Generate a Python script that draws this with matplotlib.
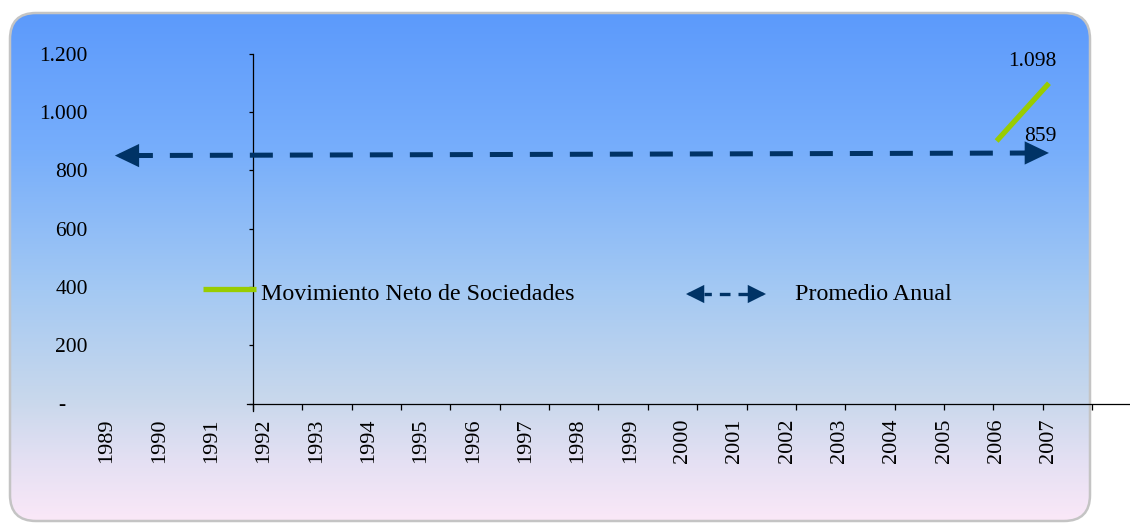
import numpy as np
import matplotlib
matplotlib.use('Agg')
import matplotlib.pyplot as plt
from matplotlib.patches import FancyBboxPatch
from matplotlib.colors import to_rgb
from matplotlib.ticker import FixedLocator

plt.rcParams['font.family'] = ['Liberation Serif', 'DejaVu Serif']

# datos
years = list(range(1989, 2008))
mov_years = [2006, 2007]
mov_values = [900, 1098]
prom_years = [1989.15, 2007]
prom_values = [850, 859]
y_ticks = [0, 200, 400, 600, 800, 1000, 1200]

W, H = 1130, 524
fig = plt.figure(figsize=(W / 100, H / 100), dpi=100)

# fondo redondeado con degradado
bg = fig.add_axes([0, 0, 1, 1])
bg.set_xlim(0, W)
bg.set_ylim(H, 0)
bg.axis('off')
stops_y = [13, 150, 290, 400, 460, 521]
stops_c = ['#5c9afc', '#77aefb', '#a4c9f3', '#c9d8ec', '#e4e0f3', '#fbe8f8']
rows = np.arange(H)
rgb = np.array([to_rgb(c) for c in stops_c])
grad = np.stack([np.interp(rows, stops_y, rgb[:, i]) for i in range(3)], axis=1)
img = np.repeat(grad[:, None, :], 2, axis=1)
box = FancyBboxPatch((10, 13), 1080, 508, boxstyle='round,pad=0,rounding_size=26',
                     facecolor='none', edgecolor='#c4c4c4', linewidth=1.8, zorder=3)
bg.add_patch(box)
im = bg.imshow(img, extent=(0, W, H, 0), aspect='auto', zorder=1)
im.set_clip_path(box)

# ejes principales (posiciones en pixeles)
px_left, px_right = 40, 1130
px_y0, px_y1200 = 403.5, 53.5
px_1989, px_per_year = 107, 52.33

def px2yr(p):
    return 1989 + (p - px_1989) / px_per_year

ax = fig.add_axes([px_left / W, (H - px_y0) / H, (px_right - px_left) / W, (px_y0 - px_y1200) / H])
ax.patch.set_alpha(0)
ax.set_xlim(px2yr(px_left), px2yr(px_right))
ax.set_ylim(0, 1200)
for s in ['top', 'right']:
    ax.spines[s].set_visible(False)
ax.spines['left'].set_position(('data', px2yr(253)))
ax.spines['left'].set_bounds(-25, 1200)
ax.spines['bottom'].set_bounds(px2yr(247), px2yr(px_right))
for s in ['left', 'bottom']:
    ax.spines[s].set_linewidth(0.9)

ax.set_yticks(y_ticks)
ax.set_yticklabels(['-    ' if v == 0 else f'{v:,}'.replace(',', '.') for v in y_ticks])
ax.tick_params(axis='y', direction='out', length=3, width=0.9, pad=116, labelsize=15.5)

ax.set_xticks(years)
ax.set_xticklabels([str(y) for y in years], rotation=90, va='top', ha='center')
ax.tick_params(axis='x', which='major', length=0, pad=11, labelsize=16)
ax.xaxis.set_minor_locator(FixedLocator([px2yr(253 + 49.35 * k) for k in range(18)]))
ax.tick_params(axis='x', which='minor', direction='out', length=4.5, width=0.9)

navy = '#003366'
green = '#99cc00'

# promedio anual
ax.plot(prom_years, prom_values, color=navy, lw=3.6, linestyle=(5.0, (4.6, 3.4)),
        solid_capstyle='butt', dash_capstyle='butt', clip_on=False, zorder=3)
head = dict(arrowstyle='-|>,head_length=1.25,head_width=0.6', color=navy, lw=3.0,
            shrinkA=0, shrinkB=0, mutation_scale=10, joinstyle='miter', capstyle='butt')
ax.annotate('', xy=(prom_years[0], prom_values[0]), xytext=(27, 0),
            textcoords='offset points', arrowprops=head, annotation_clip=False)
ax.annotate('', xy=(prom_years[-1], prom_values[-1]), xytext=(-18, 0),
            textcoords='offset points', arrowprops=head, annotation_clip=False)

# movimiento neto
ax.plot(mov_years, mov_values, color=green, lw=3.8, solid_capstyle='butt', zorder=4, clip_on=False)

ax.annotate(f'{mov_values[-1]:,}'.replace(',', '.'), xy=(mov_years[-1], mov_values[-1]),
            xytext=(-12, 16), textcoords='offset points', ha='center', va='center', fontsize=15.5)
ax.annotate(f'{prom_values[-1]}', xy=(prom_years[-1], prom_values[-1]),
            xytext=(-6, 12), textcoords='offset points', ha='center', va='center', fontsize=15.5)

# leyenda manual
lg = fig.add_axes([0, 0, 1, 1])
lg.set_xlim(0, W)
lg.set_ylim(H, 0)
lg.axis('off')
lg.plot([203, 256], [289, 289], color=green, lw=3.8, solid_capstyle='butt')
lg.text(261, 294, 'Movimiento Neto de Sociedades', fontsize=17.3, va='center', ha='left')
lg.plot([704, 748], [294, 294], color=navy, lw=2.4, linestyle=(1, (3.2, 2.4)), dash_capstyle='butt')
small = dict(arrowstyle='-|>,head_length=1.1,head_width=0.55', color=navy, lw=2.0,
             shrinkA=0, shrinkB=0, mutation_scale=9, joinstyle='miter')
lg.annotate('', xy=(686, 294), xytext=(702, 294), arrowprops=small)
lg.annotate('', xy=(766, 294), xytext=(750, 294), arrowprops=small)
lg.text(795, 294, 'Promedio Anual', fontsize=17.3, va='center', ha='left')

fig.savefig('out.png', dpi=100)
